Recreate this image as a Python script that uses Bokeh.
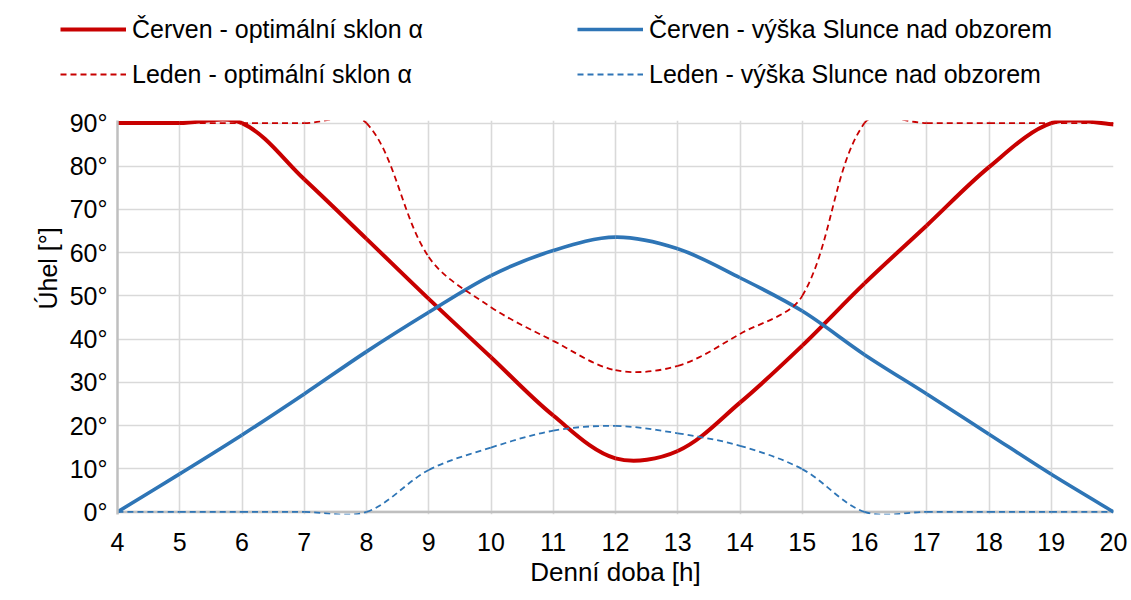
from bokeh.plotting import figure
from bokeh.layouts import column, row
from bokeh.models import (Range1d, FixedTicker, PrintfTickFormatter, Legend,
                          LegendItem, Span, ColumnDataSource, Title)
from bokeh.embed import file_html
from bokeh.resources import INLINE

# ---------------- data ----------------
hours = [4, 5, 6, 7, 8, 9, 10, 11, 12, 13, 14, 15, 16, 17, 18, 19, 20]
cerven_sklon = [90, 90, 90, 77, 63.2, 49.3, 35.8, 22.3, 12.4, 14.1, 25.3, 38.5, 52.9, 66.3, 79.8, 90, 89.7]
cerven_vyska = [0, 8.8, 17.8, 27.3, 37.1, 46.2, 54.7, 60.5, 63.6, 60.9, 54.2, 46.5, 36.4, 27.3, 18.0, 8.7, 0]
leden_sklon = [90, 90, 90, 90, 90, 59, 47.4, 39.6, 32.8, 33.8, 41.2, 50, 90, 90, 90, 90, 90]
leden_vyska = [0, 0, 0, 0, 0, 9.7, 14.9, 18.8, 19.9, 18.2, 15.3, 9.9, 0, 0, 0, 0, 0]
y_ticks = [0, 10, 20, 30, 40, 50, 60, 70, 80, 90]

labels = ["Červen - optimální sklon α", "Červen - výška Slunce nad obzorem",
          "Leden - optimální sklon α", "Leden - výška Slunce nad obzorem"]

FONT = "Liberation Sans"
RED = "#C80000"
BLUE = "#2E75B6"
GRID = "#D9D9D9"
AXIS = "#BFBFBF"

# approximate screen scale used only to shape the smoothed (Excel-like) curve
SX, SY = 62.25, 4.32


def smooth_source(xs, ys):
    """Bezier control points for an Excel-style smoothed line through the points."""
    n = len(xs)

    def seglen(i, j):
        return (((xs[j] - xs[i]) * SX) ** 2 + ((ys[j] - ys[i]) * SY) ** 2) ** 0.5

    def tangent(i):
        a = max(i - 1, 0)
        b = min(i + 1, n - 1)
        lp = seglen(a, i) if i > 0 else None
        ln = seglen(i, b) if i < n - 1 else None
        if lp is None:
            lp = ln
        if ln is None:
            ln = lp
        tot = lp + ln if (lp + ln) > 0 else 1.0
        return xs[b] - xs[a], ys[b] - ys[a], lp / tot, ln / tot

    d = dict(x0=[], y0=[], x1=[], y1=[], cx0=[], cy0=[], cx1=[], cy1=[])
    for i in range(n - 1):
        tx0, ty0, _, wn0 = tangent(i)
        tx1, ty1, wp1, _ = tangent(i + 1)
        d["x0"].append(xs[i]); d["y0"].append(ys[i])
        d["x1"].append(xs[i + 1]); d["y1"].append(ys[i + 1])
        d["cx0"].append(xs[i] + tx0 * wn0 / 3.0)
        d["cy0"].append(ys[i] + ty0 * wn0 / 3.0)
        d["cx1"].append(xs[i + 1] - tx1 * wp1 / 3.0)
        d["cy1"].append(ys[i + 1] - ty1 * wp1 / 3.0)
    return ColumnDataSource(d)


sources = [smooth_source(hours, cerven_sklon), smooth_source(hours, cerven_vyska),
           smooth_source(hours, leden_sklon), smooth_source(hours, leden_vyska)]
styles = [dict(line_color=RED, line_width=4),
          dict(line_color=BLUE, line_width=3.6),
          dict(line_color=RED, line_width=1.8, line_dash="6 4"),
          dict(line_color=BLUE, line_width=1.8, line_dash="6 4")]
BEZ = dict(x0="x0", y0="y0", x1="x1", y1="y1", cx0="cx0", cy0="cy0",
           cx1="cx1", cy1="cy1")

# ---------------- main chart ----------------
p = figure(width=1131, height=500, output_backend="svg", toolbar_location=None,
           x_range=Range1d(4, 20), y_range=Range1d(-0.6, 90.6),
           min_border_left=117, min_border_right=18, min_border_top=20,
           min_border_bottom=86)
p.outline_line_color = None
p.background_fill_color = "white"

p.xgrid.grid_line_color = GRID
p.ygrid.grid_line_color = GRID
p.xgrid.grid_line_width = 1.6
p.ygrid.grid_line_width = 1.6

p.xaxis.ticker = FixedTicker(ticks=hours)
p.yaxis.ticker = FixedTicker(ticks=y_ticks)
p.yaxis.formatter = PrintfTickFormatter(format="%d°")
for ax in (p.xaxis[0], p.yaxis[0]):
    ax.major_tick_line_color = None
    ax.minor_tick_line_color = None
    ax.major_tick_out = 0
    ax.major_tick_in = 0
    ax.major_label_text_font = FONT
    ax.major_label_text_font_size = "25px"
    ax.major_label_text_color = "black"
    ax.axis_label_text_font = FONT
    ax.axis_label_text_font_size = "26px"
    ax.axis_label_text_font_style = "normal"
    ax.axis_label_text_color = "black"
p.xaxis.axis_line_color = None
p.yaxis.axis_line_color = AXIS
p.yaxis.axis_line_width = 2.5
p.xaxis.major_label_standoff = 18
p.yaxis.major_label_standoff = 10
p.xaxis.axis_label = "Denní doba [h]"
p.xaxis.axis_label_standoff = 3

ytitle = Title(text="Úhel [°]", align="left", offset=205,
               text_font=FONT, text_font_size="25px", text_font_style="normal",
               text_color="black", standoff=10)
p.add_layout(ytitle, "left")

zero_line = Span(location=0, dimension="width", line_color=AXIS, line_width=2.5,
                 level="underlay")
p.add_layout(zero_line)

for src, st in zip(sources, styles):
    p.bezier(source=src, **BEZ, **st)

# ---------------- legend strip above the chart ----------------
lf = figure(width=1131, height=100, output_backend="svg", toolbar_location=None,
            x_range=Range1d(4, 20), y_range=Range1d(-0.6, 90.6),
            x_axis_type=None, y_axis_type=None,
            min_border_left=0, min_border_right=0, min_border_top=0,
            min_border_bottom=0)
lf.outline_line_color = None
lf.xgrid.visible = False
lf.ygrid.visible = False
lr = []
for src, st in zip(sources, styles):
    r = lf.bezier(source=src, **BEZ, **st)
    r.visible = False
    lr.append(r)

legend_style = dict(
    orientation="horizontal", glyph_width=66, glyph_height=40, label_height=40,
    label_width=405, label_standoff=6, spacing=40, padding=0, margin=0,
    border_line_color=None, background_fill_alpha=0, click_policy="none",
    label_text_font=FONT, label_text_font_size="25px", label_text_color="black",
    label_text_baseline="middle")
leg1 = Legend(items=[LegendItem(label=labels[0], renderers=[lr[0]]),
                     LegendItem(label=labels[1], renderers=[lr[1]])],
              location=(60, 51), **legend_style)
leg2 = Legend(items=[LegendItem(label=labels[2], renderers=[lr[2]]),
                     LegendItem(label=labels[3], renderers=[lr[3]])],
              location=(60, 6), **legend_style)
lf.add_layout(leg1, "center")
lf.add_layout(leg2, "center")

# wrapping the legend strip in its own row keeps its frame from being aligned
layout = column(row(lf, spacing=0), p, spacing=0)
open("out.html", "w").write(file_html(layout, INLINE))
